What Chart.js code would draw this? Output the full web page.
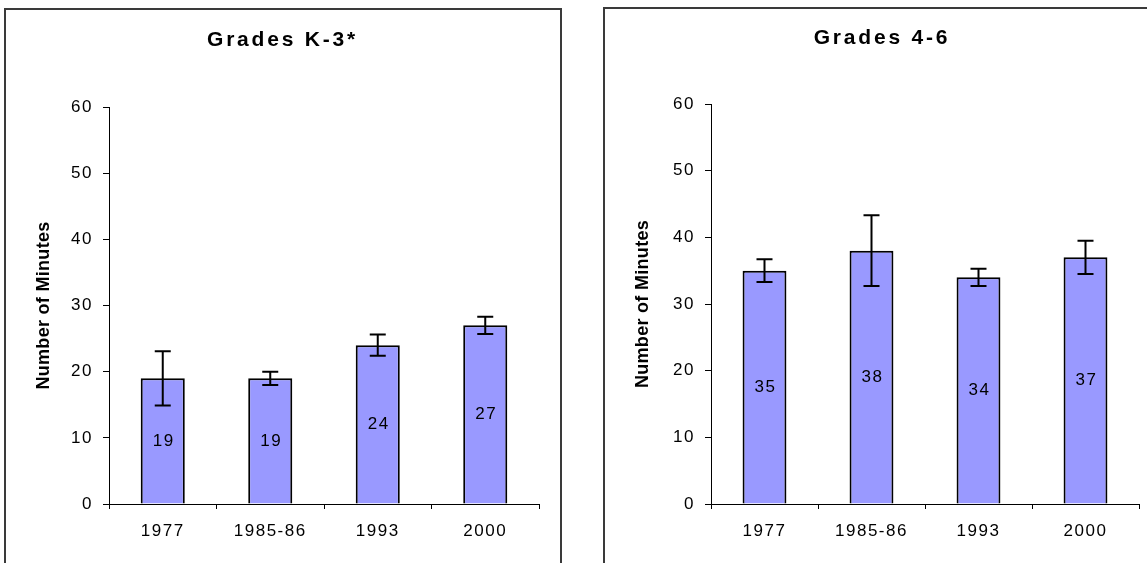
<!DOCTYPE html>
<html lang="en">
<head>
  <meta charset="UTF-8">
  <title>Number of Minutes by Grade</title>
  <style>
    html, body {
      margin: 0;
      padding: 0;
      background: #fff;
      overflow: hidden;
      width: 1147px;
      height: 563px;
    }
    .panel {
      position: absolute;
      box-sizing: border-box;
      border: 2px solid #3a3a3a;
      height: 640px;
    }
    .chart-box {
      position: absolute;
      top: 0;
      height: 563px;
    }
  </style>
  <script src="https://cdn.jsdelivr.net/npm/chart.js@4"></script>
</head>
<body>
  <div class="panel" style="left:4px; top:8px; width:558px;"></div>
  <div class="panel" style="left:603px; top:7px; width:620px;"></div>

  <div class="chart-box" style="left:0px; width:565px;">
    <canvas id="chartK3"></canvas>
  </div>
  <div class="chart-box" style="left:600px; width:564px;">
    <canvas id="chart46"></canvas>
  </div>

  <script>
    // data
    const years = ['1977', '1985-86', '1993', '2000'];
    const yTicks = [0, 10, 20, 30, 40, 50, 60];

    const minutesK3 = [19, 19, 24, 27];
    const errorK3 = [4.1, 1.0, 1.6, 1.3];

    const minutes46 = [35, 38, 34, 37];
    const error46 = [1.7, 5.3, 1.3, 2.5];

    const FONT = "'Liberation Sans', Arial, sans-serif";

    // Excel-style spaced text: set letter spacing by font before each draw
    function spaceText(ctx) {
      const fill = ctx.fillText.bind(ctx);
      ctx.fillText = function(text, x, y, maxWidth) {
        const m = /([\d.]+)px/.exec(ctx.font);
        const size = m ? parseFloat(m[1]) : 16;
        if (ctx.font.indexOf('bold') !== -1) {
          ctx.letterSpacing = size >= 19 ? '2.8px' : '0.3px';
        } else {
          ctx.letterSpacing = '1.5px';
        }
        if (maxWidth === undefined) fill(text, x, y);
        else fill(text, x, y, maxWidth);
      };
      return ctx;
    }

    const errorBars = {
      id: 'errorBars',
      afterDatasetsDraw(chart, args, opts) {
        const ctx = chart.ctx;
        const y = chart.scales.y;
        const meta = chart.getDatasetMeta(0);
        const values = chart.data.datasets[0].data;
        ctx.save();
        ctx.strokeStyle = '#000';
        ctx.lineWidth = 2;
        meta.data.forEach((bar, i) => {
          const err = opts.errors[i];
          const top = y.getPixelForValue(values[i] + err);
          const bottom = y.getPixelForValue(values[i] - err);
          ctx.beginPath();
          ctx.moveTo(bar.x, top);
          ctx.lineTo(bar.x, bottom);
          ctx.moveTo(bar.x - 8, top);
          ctx.lineTo(bar.x + 8, top);
          ctx.moveTo(bar.x - 8, bottom);
          ctx.lineTo(bar.x + 8, bottom);
          ctx.stroke();
        });
        ctx.restore();
      }
    };

    const valueLabels = {
      id: 'valueLabels',
      afterDatasetsDraw(chart) {
        const ctx = chart.ctx;
        const meta = chart.getDatasetMeta(0);
        const values = chart.data.datasets[0].data;
        ctx.save();
        ctx.font = '17px ' + FONT;
        ctx.fillStyle = '#000';
        ctx.textAlign = 'center';
        ctx.textBaseline = 'middle';
        meta.data.forEach((bar, i) => {
          ctx.fillText(String(values[i]), bar.x + 1, (bar.y + bar.base) / 2);
        });
        ctx.restore();
      }
    };

    function makeChart(id, title, values, errors, cfg) {
      const ctx = spaceText(document.getElementById(id).getContext('2d'));
      return new Chart(ctx, {
        type: 'bar',
        data: {
          labels: years,
          datasets: [{
            data: values,
            backgroundColor: '#9999FF',
            borderColor: '#000',
            borderWidth: 2,
            barPercentage: 0.41,
            categoryPercentage: 1.0
          }]
        },
        options: {
          responsive: true,
          maintainAspectRatio: false,
          animation: false,
          events: [],
          layout: {
            // left/right padding kept equal-ish so the title centres on the panel
            padding: { left: cfg.left, right: cfg.right, top: 0, bottom: 0 }
          },
          plugins: {
            legend: { display: false },
            tooltip: { enabled: false },
            title: {
              display: true,
              text: title,
              color: '#000',
              font: { family: FONT, size: 21, weight: 'bold', lineHeight: 1.2 },
              padding: { top: cfg.titleTop, bottom: cfg.titleBottom }
            },
            errorBars: { errors: errors }
          },
          scales: {
            x: {
              grid: { drawOnChartArea: false, tickLength: 5, color: '#000', offset: true },
              border: { color: '#000', width: 1 },
              ticks: { color: '#000', font: { family: FONT, size: 17 }, padding: 12, maxRotation: 0 },
              afterFit: s => { s.height = 59; }
            },
            y: {
              min: yTicks[0],
              max: yTicks[yTicks.length - 1],
              ticks: { stepSize: 10, color: '#000', font: { family: FONT, size: 17 }, padding: 10 },
              grid: { drawOnChartArea: false, tickLength: 6, color: '#000' },
              border: { color: '#000', width: 1 },
              title: {
                display: true,
                text: 'Number of Minutes',
                color: '#000',
                font: { family: FONT, size: 18, weight: 'bold', lineHeight: 1.2 },
                padding: { top: cfg.yTitleTop, bottom: 0 }
              },
              afterFit: s => { s.width = cfg.yWidth; }
            }
          }
        },
        plugins: [errorBars, valueLabels]
      });
    }

    makeChart('chartK3', 'Grades K-3*', minutesK3, errorK3,
      { left: 26, right: 26, yWidth: 83, yTitleTop: 7, titleTop: 27.4, titleBottom: 54.4 });
    makeChart('chart46', 'Grades 4-6', minutes46, error46,
      { left: 25, right: 25, yWidth: 86, yTitleTop: 7, titleTop: 25.4, titleBottom: 53.4 });
  </script>
</body>
</html>
